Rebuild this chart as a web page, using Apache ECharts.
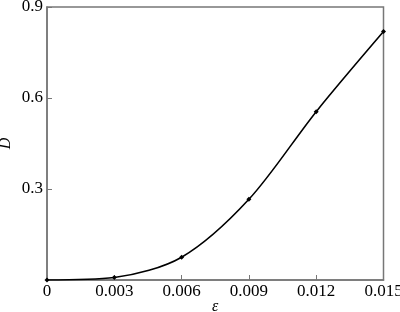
<!DOCTYPE html>
<html><head><meta charset="utf-8">
<script src="https://cdn.jsdelivr.net/npm/echarts@6/dist/echarts.min.js"></script>
<style>html,body{margin:0;padding:0;background:#fff}#c{width:400px;height:312px}</style>
</head><body><div id="c"></div>
<script>
var epsValues = [0, 0.003, 0.006, 0.009, 0.012, 0.015];
var dValues = [0, 0.008, 0.075, 0.266, 0.555, 0.819];
var xTicks = [0, 0.003, 0.006, 0.009, 0.012, 0.015];
var yTicks = [0, 0.3, 0.6, 0.9];

var chart = echarts.init(document.getElementById('c'), null, {renderer: 'canvas'});
var font = 'Liberation Serif';
var axisColor = '#777';
chart.setOption({
  animation: false,
  grid: {left: 47, top: 7, right: 16.5, bottom: 32, containLabel: false, outerBoundsMode: 'none',
    show: true, borderColor: axisColor, borderWidth: 1.5},
  xAxis: {
    type: 'value', min: 0, max: 0.015, interval: 0.003,
    name: 'ε', nameLocation: 'middle', nameGap: 19, nameMoveOverlap: false,
    nameTextStyle: {fontFamily: font, fontStyle: 'italic', fontSize: 16, color: '#000'},
    axisLine: {show: true, lineStyle: {color: axisColor, width: 1.5}},
    axisTick: {show: true, inside: true, length: 5, lineStyle: {color: axisColor, width: 1}},
    splitLine: {show: false},
    axisLabel: {fontFamily: font, fontSize: 17, color: '#000', margin: 3,
      formatter: function (v) { return v === 0 ? '0' : v.toFixed(3); }}
  },
  yAxis: {
    type: 'value', min: 0, max: 0.9, interval: 0.3,
    name: 'D', nameLocation: 'middle', nameGap: 33, nameRotate: 90, nameMoveOverlap: false,
    nameTextStyle: {fontFamily: font, fontStyle: 'italic', fontSize: 16, color: '#000'},
    axisLine: {show: true, lineStyle: {color: axisColor, width: 1.5}},
    axisTick: {show: true, inside: true, length: 5, lineStyle: {color: axisColor, width: 1}},
    splitLine: {show: false},
    axisLabel: {fontFamily: font, fontSize: 17, color: '#000', margin: 4,
      formatter: function (v) { return v === 0 ? '' : v.toFixed(1); }}
  },
  series: [{
    type: 'line',
    data: epsValues.map(function (x, i) { return [x, dValues[i]]; }),
    smooth: 0.3,
    symbol: 'diamond', symbolSize: 5,
    itemStyle: {color: '#000'},
    lineStyle: {color: '#000', width: 1.6}
  }]
});
</script></body></html>
